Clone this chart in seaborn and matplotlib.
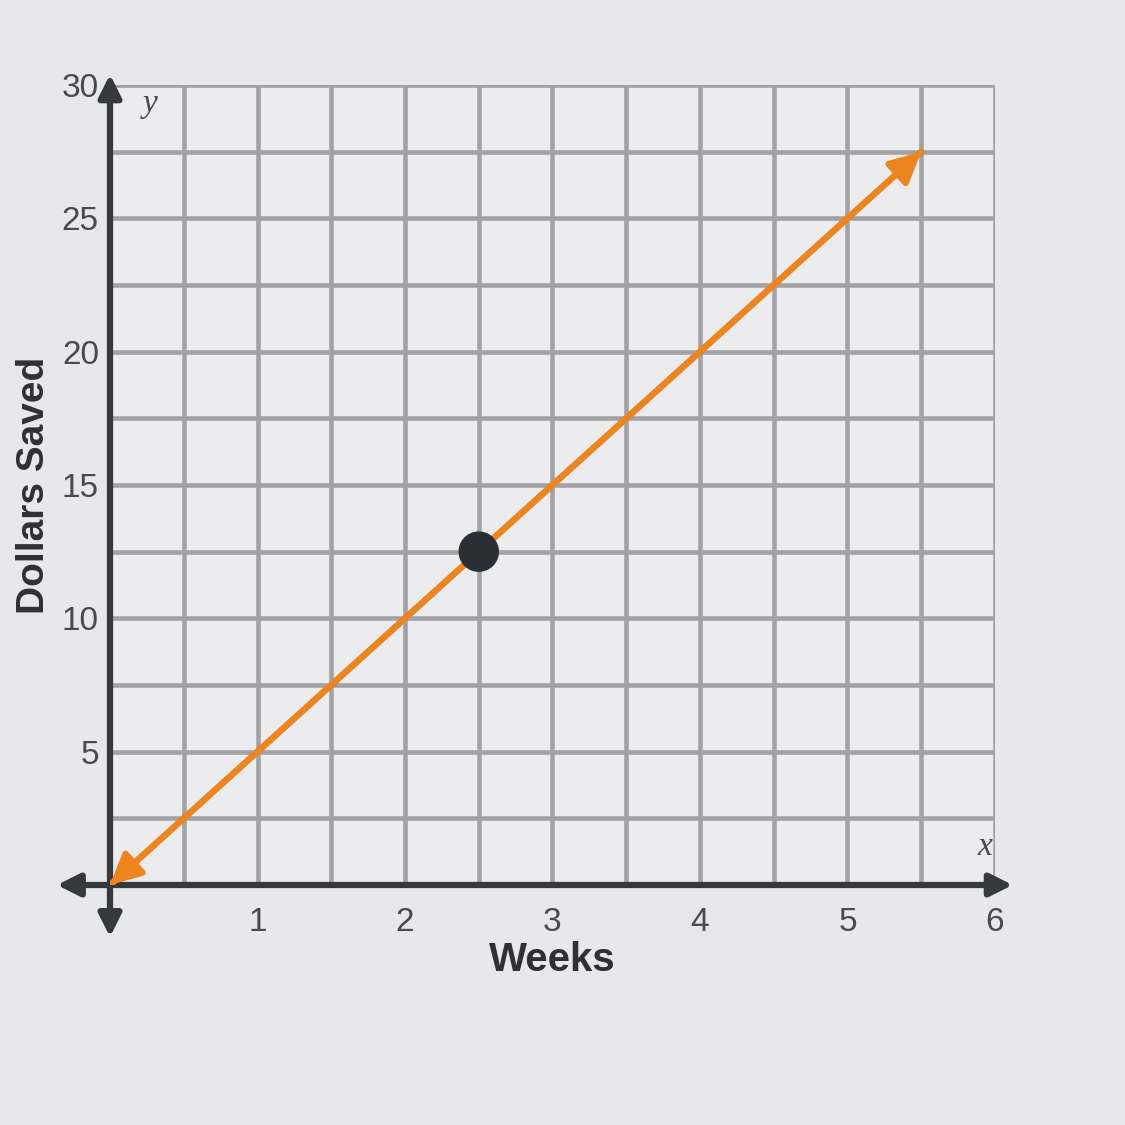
import numpy as np
import pandas as pd
import matplotlib
matplotlib.use("Agg")
import matplotlib.pyplot as plt
import seaborn as sns

# ---- data ----
weeks = [0.0, 5.5]
dollars = [0.0, 27.5]
point_weeks = [2.5]
point_dollars = [12.5]
x_ticks = [1, 2, 3, 4, 5, 6]
y_ticks = [5, 10, 15, 20, 25, 30]

line_df = pd.DataFrame({"Weeks": weeks, "Dollars": dollars})
point_df = pd.DataFrame({"Weeks": point_weeks, "Dollars": point_dollars})

sns.set_style("white")
plt.rcParams["font.family"] = ["Liberation Sans", "DejaVu Sans"]

BG = "#e8e8ea"
GRID = "#a2a2a4"
AXIS = "#35383d"
ORANGE = "#ec8420"
TEXT = "#4a4a4e"

fig = plt.figure(figsize=(11.25, 11.25), dpi=100, facecolor=BG)
# axes box matches the grid: x 0..6 -> px 110..995, y 0..30 -> px 885..85
ax = fig.add_axes([110 / 1125, 240 / 1125, 885 / 1125, 800 / 1125])
ax.set_facecolor("#ececee")
ax.set_xlim(0, 6)
ax.set_ylim(0, 30)

# grid (every half week, every 2.5 dollars)
for gx in np.arange(0.5, 6.01, 0.5):
    ax.plot([gx, gx], [0, 30], color=GRID, lw=3.3, zorder=1, solid_capstyle="butt")
for gy in np.arange(2.5, 30.01, 2.5):
    ax.plot([0, 6], [gy, gy], color=GRID, lw=3.3, zorder=1, solid_capstyle="butt")

for s in ax.spines.values():
    s.set_visible(False)

# axes with arrows
ax.annotate("", xy=(6.12, 0), xytext=(-0.36, 0), annotation_clip=False,
            arrowprops=dict(arrowstyle="<|-|>", color=AXIS, lw=4.5,
                            mutation_scale=34, shrinkA=0, shrinkB=0), zorder=3)
ax.annotate("", xy=(0, 30.4), xytext=(0, -1.95), annotation_clip=False,
            arrowprops=dict(arrowstyle="<|-|>", color=AXIS, lw=4.5,
                            mutation_scale=34, shrinkA=0, shrinkB=0), zorder=3)

# savings line
sns.lineplot(data=line_df, x="Weeks", y="Dollars", color=ORANGE, lw=4.5,
             ax=ax, zorder=4)
ax.annotate("", xy=(weeks[-1], dollars[-1]), xytext=(weeks[0], dollars[0]),
            annotation_clip=False,
            arrowprops=dict(arrowstyle="<|-|>", color=ORANGE, lw=4.5,
                            mutation_scale=46, shrinkA=0, shrinkB=0), zorder=4)

# marked point
sns.scatterplot(data=point_df, x="Weeks", y="Dollars", s=850, color="#2b2e35",
                edgecolor="none", ax=ax, zorder=5)

ax.set_xticks(x_ticks)
ax.set_yticks(y_ticks)
ax.set_xticklabels([str(t) for t in x_ticks])
ax.set_yticklabels([str(t) for t in y_ticks])
ax.tick_params(axis="both", length=0, labelsize=24, labelcolor=TEXT)
ax.tick_params(axis="x", pad=16)
ax.tick_params(axis="y", pad=8)

ax.set_xlabel("Weeks", fontsize=29, fontweight="bold", color="#2e3035", labelpad=2)
ax.set_ylabel("Dollars Saved", fontsize=28, fontweight="bold", color="#2e3035",
              labelpad=7)

ax.text(0.22, 29.3, "y", fontsize=24, style="italic", family="Liberation Serif",
        color=TEXT, ha="left", va="center", zorder=6)
ax.text(5.93, 1.45, "x", fontsize=24, style="italic", family="Liberation Serif",
        color=TEXT, ha="center", va="center", zorder=6,
        bbox=dict(facecolor="#ececee", edgecolor="none", pad=1))

fig.savefig("out.png", dpi=100, facecolor=BG)
